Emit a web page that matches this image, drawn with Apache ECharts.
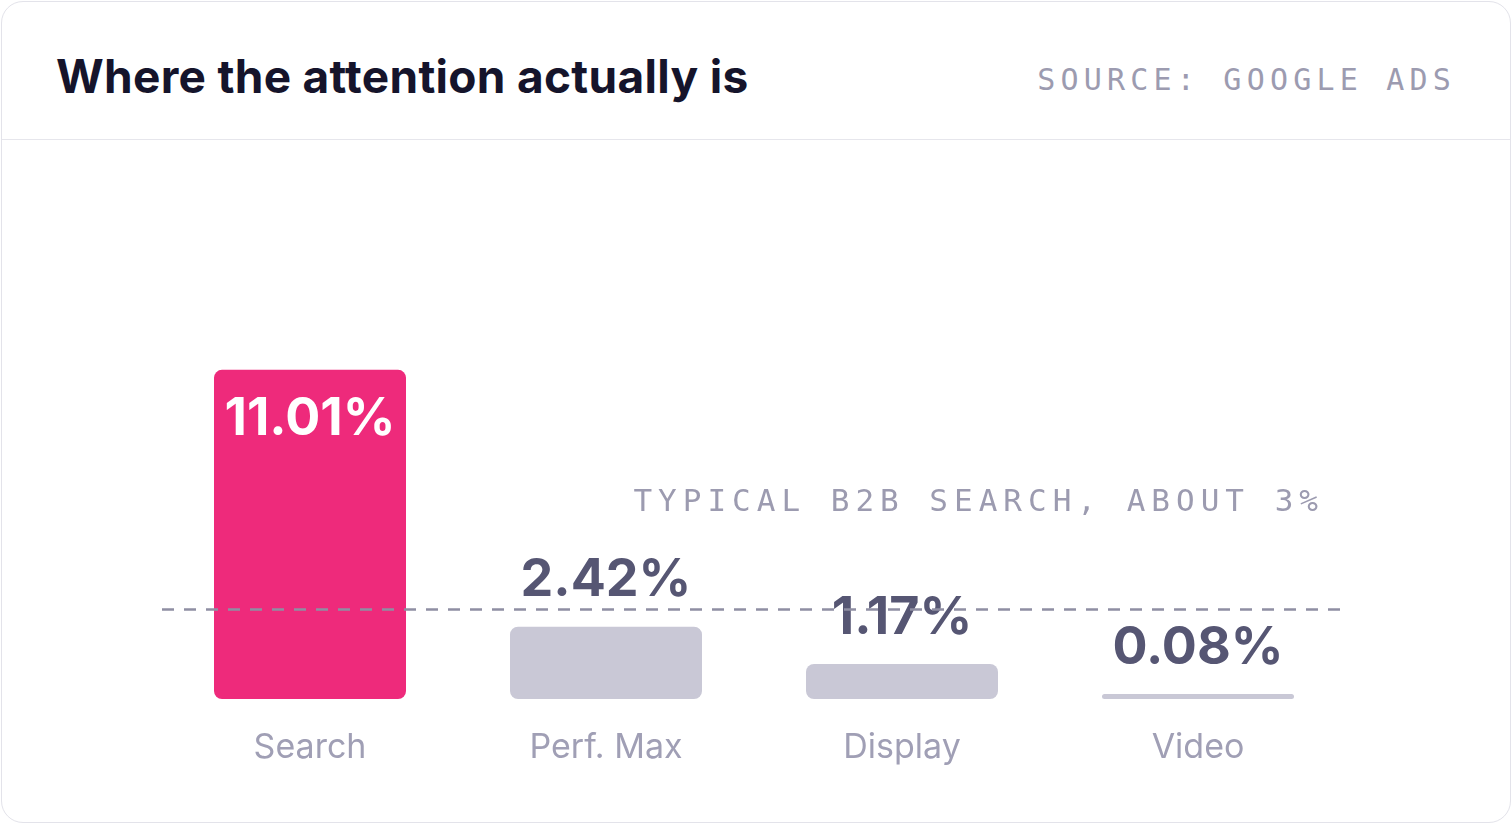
<!DOCTYPE html>
<html><head><meta charset="utf-8">
<script src="https://cdn.jsdelivr.net/npm/echarts@6/dist/echarts.min.js"></script>
<style>
html,body{margin:0;padding:0;background:#fff;}
#card{position:absolute;left:1px;top:1px;width:1508px;height:820px;border:1px solid #e3e3ea;border-radius:22px;overflow:hidden;background:#fff;}
#hdr{position:absolute;left:0;top:0;width:100%;height:137px;border-bottom:1px solid #e6e6ec;}
#title{position:absolute;left:54px;top:46px;font:700 46px Inter,sans-serif;color:#15142b;letter-spacing:0.3px;}
#src{position:absolute;right:54px;top:60px;font:400 30px 'DejaVu Sans Mono',monospace;color:#9c9bb0;letter-spacing:5.2px;}
#bench{position:absolute;right:188px;top:482px;font:400 31px 'DejaVu Sans Mono',monospace;color:#9c9bb0;letter-spacing:6px;z-index:2;}
#chart{position:absolute;left:0;top:0;width:1512px;height:824px;}
</style></head><body>
<div id="card"><div id="hdr"><div id="title">Where the attention actually is</div><div id="src">SOURCE: GOOGLE ADS</div></div></div>
<div id="chart"></div>
<div id="bench"></div>
<script>
const categories = ['Search','Perf. Max','Display','Video'];
const values = [11.01, 2.42, 1.17, 0.08];
const benchmark = 3;
const benchmarkLabel = 'TYPICAL B2B SEARCH, ABOUT 3%';
document.getElementById('bench').textContent = benchmarkLabel;
const c = echarts.init(document.getElementById('chart'));
c.setOption({
  grid:{left:162,right:166,top:280.4,bottom:125},
  xAxis:{type:'category',data:categories,axisLine:{show:false},axisTick:{show:false},
    axisLabel:{color:'#a09fb5',fontSize:34,fontFamily:'Inter, sans-serif',margin:32}},
  yAxis:{type:'value',min:0,max:14,show:false,splitLine:{show:false}},
  series:[{type:'bar',barWidth:192,barMinHeight:5,
    data:values.map((v,i)=>({value:v,
      itemStyle:{color:i===0?'#ee2a7b':'#c9c8d6',borderRadius:8},
      label:i===0?{position:'insideTop',color:'#fff',distance:24}:{position:'top',color:'#565673',distance:20}})),
    label:{show:true,formatter:p=>p.value.toFixed(2)+'%',fontSize:52,fontWeight:700,fontFamily:'Inter, sans-serif'},
    markLine:{symbol:'none',silent:true,
      lineStyle:{color:'#8f8ea3',type:[12,10],width:2.5},
      label:{show:false},
      data:[{yAxis:benchmark}]}
  }]
});
</script></body></html>
